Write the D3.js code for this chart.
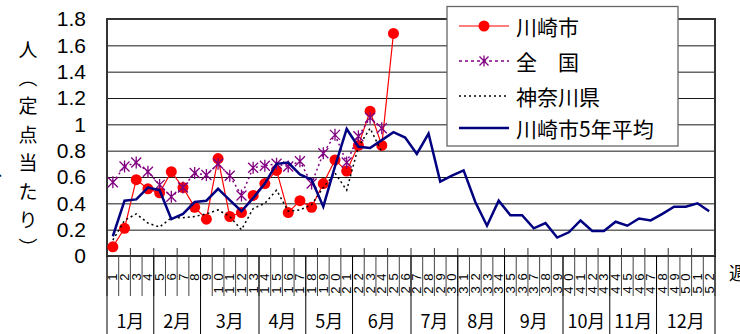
<!DOCTYPE html>
<html><head><meta charset="utf-8">
<script src="https://cdn.jsdelivr.net/npm/d3@7"></script>
<style>
html,body{margin:0;padding:0;background:#fff;}
svg{display:block;}
</style></head>
<body>
<script>
// ---- data ----
const weeks = d3.range(1, 53);
const kawasaki = [0.07,0.21,0.58,0.51,0.48,0.64,0.52,0.37,0.28,0.74,0.30,0.33,0.46,0.55,0.65,0.33,0.42,0.37,0.55,0.73,0.645,0.84,1.10,0.84,1.69];
const zenkoku = [0.56,0.68,0.71,0.64,0.54,0.45,0.52,0.63,0.615,0.70,0.61,0.46,0.67,0.685,0.70,0.68,0.72,0.55,0.78,0.92,0.71,0.91,1.05,0.97];
const kanagawa = [0.12,0.27,0.32,0.25,0.22,0.29,0.29,0.30,0.32,0.35,0.30,0.20,0.36,0.40,0.50,0.34,0.35,0.39,0.52,0.63,0.50,0.83,0.97,0.79];
const avg5 = [0.15,0.42,0.43,0.52,0.50,0.28,0.32,0.41,0.42,0.51,0.425,0.34,0.44,0.55,0.70,0.71,0.62,0.58,0.375,0.68,0.965,0.83,0.82,0.88,0.94,0.90,0.775,0.93,0.565,0.61,0.65,0.41,0.23,0.42,0.31,0.31,0.21,0.25,0.14,0.18,0.27,0.19,0.19,0.26,0.23,0.285,0.27,0.32,0.375,0.375,0.40,0.34];
const yTicks = [0,0.2,0.4,0.6,0.8,1,1.2,1.4,1.6,1.8];
const yTickLabels = ["0","0.2","0.4","0.6","0.8","1","1.2","1.4","1.6","1.8"];
const months = ["1月","2月","3月","4月","5月","6月","7月","8月","9月","10月","11月","12月"];
const monthWeeks = [4,4,5,4,4,5,4,4,5,4,4,5];
const yTitle = ["人","︵","定","点","当","た","り","︶"];
const legendNames = ["川崎市","全　国","神奈川県","川崎市5年平均"];

// ---- layout ----
const W = 740, H = 334;
const L = 107, R = 715, T = 19, B = 256;
const x = d3.scaleLinear().domain([0.5, 52.5]).range([L, R]);
const y = d3.scaleLinear().domain([0, 1.8]).range([B, T]);
const svg = d3.select("body").append("svg").attr("width", W).attr("height", H);
const jp = "'Noto Sans CJK JP','Noto Sans',sans-serif";
const num = "'Liberation Sans',Arial,sans-serif";

// gridlines
svg.append("g").attr("transform", `translate(${L},0)`)
  .call(d3.axisRight(y).tickValues(yTicks).tickSize(R - L).tickFormat(""))
  .call(g => g.select(".domain").remove())
  .call(g => g.selectAll("line").attr("stroke", "#1a1a1a").attr("stroke-width", 1));

// y tick labels
svg.append("g").attr("transform", `translate(${L},0)`)
  .call(d3.axisLeft(y).tickValues(yTicks).tickSize(0).tickPadding(21)
    .tickFormat((d, i) => yTickLabels[i]))
  .call(g => g.select(".domain").remove())
  .call(g => g.selectAll("text").attr("font-family", num).attr("font-size", 21).attr("fill", "#000"));

// frame
svg.append("rect").attr("x", L).attr("y", T).attr("width", R - L).attr("height", B - T)
  .attr("fill", "none").attr("stroke", "#333").attr("stroke-width", 2);

// inner major ticks (every 2 weeks)
svg.append("g").selectAll("line").data(d3.range(0, 53, 2)).join("line")
  .attr("x1", d => x(d + 0.5)).attr("x2", d => x(d + 0.5))
  .attr("y1", B - 8).attr("y2", B).attr("stroke", "#333").attr("stroke-width", 1);

// week tick lines below
svg.append("g").selectAll("line").data(d3.range(0, 53)).join("line")
  .attr("x1", d => x(d + 0.5)).attr("x2", d => x(d + 0.5))
  .attr("y1", B).attr("y2", 296).attr("stroke", "#444").attr("stroke-width", 1);

// week labels (rotated digits)
const wl = svg.append("g").attr("font-family", num).attr("font-size", 13).attr("fill", "#000");
weeks.forEach(w => {
  String(w).split("").reverse().forEach((ch, j) => {
    const cx = x(w), cy = 277 + j * 13;
    wl.append("text").attr("x", cx).attr("y", cy)
      .attr("text-anchor", "middle").attr("dominant-baseline", "central")
      .attr("transform", `rotate(-90,${cx},${cy})`).text(ch);
  });
});

// month separators and labels
const cum = [0];
monthWeeks.forEach((n, i) => cum.push(cum[i] + n));
svg.append("g").selectAll("line").data(cum).join("line")
  .attr("x1", d => x(d + 0.5)).attr("x2", d => x(d + 0.5))
  .attr("y1", B).attr("y2", H).attr("stroke", "#000").attr("stroke-width", 1);
svg.append("g").selectAll("text").data(months).join("text")
  .attr("x", (d, i) => (x(cum[i] + 0.5) + x(cum[i + 1] + 0.5)) / 2)
  .attr("y", 328).attr("text-anchor", "middle")
  .attr("font-family", jp).attr("font-size", 18).attr("fill", "#000").text(d => d);

// y axis title (vertical)
svg.append("g").selectAll("text").data(yTitle).join("text")
  .attr("x", 28).attr("y", (d, i) => 48 + i * 28.4)
  .attr("text-anchor", "middle").attr("dominant-baseline", "central")
  .attr("font-family", jp).attr("font-size", 19).attr("fill", "#000").text(d => d);
svg.append("text").attr("x", -5).attr("y", 176).attr("font-family", jp).attr("font-size", 19).text("、");
svg.append("text").attr("x", 729).attr("y", 280).attr("font-family", jp).attr("font-size", 18).text("週");

// series
const line = d3.line().x((d, i) => x(i + 1)).y(d => y(d));
svg.append("path").datum(kawasaki).attr("d", line).attr("fill", "none").attr("stroke", "#ff0000").attr("stroke-width", 1.2);
svg.append("g").selectAll("circle").data(kawasaki).join("circle")
  .attr("cx", (d, i) => x(i + 1)).attr("cy", d => y(d)).attr("r", 5.5).attr("fill", "#ff0000");

svg.append("path").datum(zenkoku).attr("d", line).attr("fill", "none").attr("stroke", "#800080")
  .attr("stroke-width", 1.5).attr("stroke-dasharray", "2,3");
function star(g, cx, cy, s, color) {
  g.append("path").attr("d", `M${cx - s},${cy - s}L${cx + s},${cy + s}M${cx - s},${cy + s}L${cx + s},${cy - s}M${cx},${cy - s * 1.2}L${cx},${cy + s * 1.2}`)
    .attr("stroke", color).attr("stroke-width", 1.3).attr("fill", "none");
}
const sg = svg.append("g");
zenkoku.forEach((d, i) => star(sg, x(i + 1), y(d), 5, "#800080"));

svg.append("path").datum(kanagawa).attr("d", line).attr("fill", "none").attr("stroke", "#000")
  .attr("stroke-width", 1.5).attr("stroke-dasharray", "2,3");

svg.append("path").datum(avg5).attr("d", line).attr("fill", "none").attr("stroke", "#000080").attr("stroke-width", 2.5);

// legend
const lg = svg.append("g");
lg.append("rect").attr("x", 447).attr("y", 6.5).attr("width", 231).attr("height", 139.5)
  .attr("fill", "#fff").attr("stroke", "#666").attr("stroke-width", 1.3);
const ly = [26, 61, 96, 128];
lg.selectAll("text").data(legendNames).join("text")
  .attr("x", 516).attr("y", (d, i) => ly[i]).attr("dominant-baseline", "central")
  .attr("font-family", jp).attr("font-size", 21).attr("fill", "#000").text(d => d);
lg.append("line").attr("x1", 459).attr("x2", 509).attr("y1", ly[0]).attr("y2", ly[0]).attr("stroke", "#ff0000").attr("stroke-width", 1.2);
lg.append("circle").attr("cx", 484).attr("cy", ly[0]).attr("r", 5.5).attr("fill", "#ff0000");
lg.append("line").attr("x1", 459).attr("x2", 509).attr("y1", ly[1]).attr("y2", ly[1]).attr("stroke", "#800080").attr("stroke-width", 1.5).attr("stroke-dasharray", "3,3");
star(lg, 484, ly[1], 4.5, "#800080");
lg.append("line").attr("x1", 459).attr("x2", 509).attr("y1", ly[2]).attr("y2", ly[2]).attr("stroke", "#000").attr("stroke-width", 1.5).attr("stroke-dasharray", "2,3");
lg.append("line").attr("x1", 459).attr("x2", 509).attr("y1", ly[3]).attr("y2", ly[3]).attr("stroke", "#000080").attr("stroke-width", 2.5);
</script>
</body></html>
